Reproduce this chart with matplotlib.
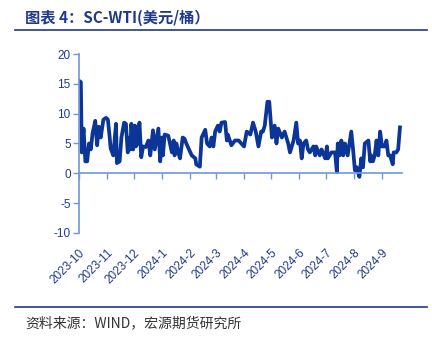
import numpy as np
import pandas as pd
import matplotlib
matplotlib.use("Agg")
import matplotlib.pyplot as plt
import matplotlib.dates as mdates

plt.rcParams['font.family'] = ['Liberation Sans', 'Noto Sans CJK SC', 'DejaVu Sans']
plt.rcParams['axes.unicode_minus'] = False

# SC-WTI spread, days counted from 2023-10-01
days = [0, 2, 3, 5, 7, 9, 11, 13, 15, 18, 20, 22, 24, 27, 30, 32, 34, 35, 38, 41,
        42, 45, 47, 50, 52, 54, 56, 57, 58, 60, 62, 63, 65, 67, 69, 71, 74, 77, 79, 82,
        84, 88, 90, 92, 93, 95, 99, 103, 105, 106, 108, 110, 112, 115, 117, 119, 122, 125, 129, 130,
        134, 136, 140, 142, 145, 147, 149, 151, 154, 156, 158, 162, 164, 165, 169, 173, 177, 180, 183, 186,
        190, 193, 196, 199, 202, 204, 206, 209, 211, 214, 217, 219, 221, 225, 228, 232, 234, 238, 241, 243,
        245, 247, 249, 252, 254, 256, 260, 262, 263, 267, 269, 273, 275, 276, 280, 284, 286, 287, 289, 291,
        293, 295, 298, 302, 304, 306, 308, 311, 313, 315, 317, 321, 323, 324, 326, 328, 330, 332, 334, 336,
        339, 341, 343, 345, 348, 349, 352, 354, 356]
spread = [15.5, 15.3, 3.5, 7.5, 2.0, 2.0, 5.0, 4.0, 6.7, 8.8, 4.7, 7.8, 6.0, 9.0, 9.3, 9.0, 6.0, 4.2, 3.0, 8.3,
          1.7, 2.0, 6.0, 8.5, 8.3, 3.5, 6.0, 4.0, 8.3, 4.0, 8.0, 4.5, 5.0, 8.5, 2.7, 4.5, 4.4, 5.5, 3.0, 7.2,
          4.0, 7.5, 2.0, 6.0, 3.0, 6.5, 6.3, 3.5, 5.5, 3.0, 5.0, 3.5, 2.5, 6.0, 5.8, 5.0, 4.0, 3.0, 2.5, 1.5,
          1.1, 6.0, 7.3, 5.0, 4.5, 6.0, 4.5, 7.0, 8.0, 7.0, 8.5, 8.6, 5.5, 6.5, 4.7, 5.5, 5.5, 5.0, 4.5, 7.0,
          6.5, 8.5, 7.0, 4.5, 7.0, 7.0, 8.0, 12.0, 12.0, 6.0, 8.0, 5.0, 7.5, 6.0, 7.0, 5.0, 3.5, 5.5, 8.5, 5.0,
          5.5, 2.5, 5.0, 5.5, 4.0, 3.5, 4.5, 3.0, 4.5, 3.0, 4.0, 2.5, 4.5, 2.5, 3.5, 3.5, 0.2, 5.0, 3.0, 5.5,
          3.0, 5.0, 3.0, 7.0, 4.0, 0.5, 1.0, -0.6, 2.5, 1.0, 5.0, 5.5, 2.0, 3.0, 2.0, 3.0, 5.5, 3.0, 7.0, 4.5,
          4.5, 5.5, 3.0, 3.0, 1.5, 3.5, 3.5, 4.0, 7.7]

month_starts = ["2023-10-01", "2023-11-01", "2023-12-01", "2024-01-01", "2024-02-01", "2024-03-01",
                "2024-04-01", "2024-05-01", "2024-06-01", "2024-07-01", "2024-08-01", "2024-09-01"]
month_labels = ["2023-10", "2023-11", "2023-12", "2024-1", "2024-2", "2024-3",
                "2024-4", "2024-5", "2024-6", "2024-7", "2024-8", "2024-9"]

start = pd.Timestamp("2023-10-01")
dates = start + pd.to_timedelta(days, unit="D")

line_col = "#0b3597"
axis_col = "#7096dc"
text_col = "#1f3a8a"

fig = plt.figure(figsize=(4.32, 3.38), dpi=100)
ax = fig.add_axes([0.183, 0.311, 0.747, 0.529])

ax.plot(dates, spread, color=line_col, lw=2.7, solid_joinstyle="round")

ax.set_ylim(-10, 20)
ax.set_yticks(range(-10, 21, 5))
ax.set_xlim(start, start + pd.Timedelta(days=358))

for s in ["top", "right"]:
    ax.spines[s].set_visible(False)
ax.spines["left"].set_color(axis_col)
ax.spines["bottom"].set_color(axis_col)
ax.spines["bottom"].set_position(("data", 0))
ax.spines["left"].set_linewidth(1.2)
ax.spines["bottom"].set_linewidth(1.2)

tick_pos = mdates.date2num(pd.to_datetime(month_starts))
ax.set_xticks(tick_pos)
ax.tick_params(axis="x", labelbottom=False, length=4, width=1, color=axis_col, direction="out")
ax.tick_params(axis="y", length=4, width=1, color=axis_col, labelcolor=text_col, labelsize=8.5, pad=2)

sec = ax.secondary_xaxis("bottom")
sec.set_xticks(tick_pos, month_labels)
sec.tick_params(length=0, labelcolor=text_col, labelsize=8.5, pad=10)
sec.spines["bottom"].set_visible(False)
for lab in sec.get_xticklabels():
    lab.set_rotation(45)
    lab.set_ha("right")
    lab.set_rotation_mode("anchor")

# header and footer
fig.text(0.058, 0.948, "图表 4：SC-WTI(美元/桶）", fontsize=11, fontweight="bold",
         color=text_col, va="center", family=["Noto Sans CJK SC", "DejaVu Sans"])
fig.add_artist(plt.Line2D([0.035, 0.988], [0.91, 0.91], color=text_col, lw=1.2))
fig.add_artist(plt.Line2D([0.035, 0.988], [0.092, 0.092], color=text_col, lw=1.2))
fig.text(0.058, 0.045, "资料来源：WIND，宏源期货研究所", fontsize=10, style="italic",
         color="#333333", va="center", family=["Noto Sans CJK SC", "DejaVu Sans"])

fig.savefig("out.png", dpi=100)
